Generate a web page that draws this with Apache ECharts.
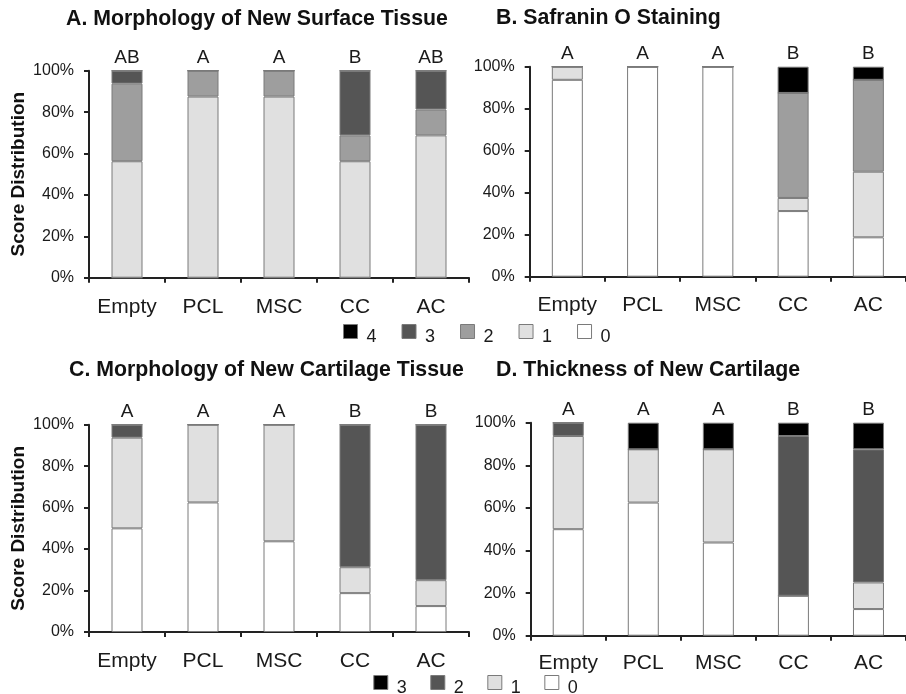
<!DOCTYPE html>
<html>
<head>
<meta charset="utf-8">
<script src="https://cdn.jsdelivr.net/npm/echarts@6/dist/echarts.min.js"></script>
<style>
html,body{margin:0;padding:0;background:#fff;}
#chart{width:906px;height:694px;}
</style>
</head>
<body>
<div id="chart"></div>
<script>
// ---- data ----
const categories = ['Empty', 'PCL', 'MSC', 'CC', 'AC'];
const yTicks = [0, 20, 40, 60, 80, 100];

// A. Morphology of New Surface Tissue (scores 0-4, % of samples)
const surfaceScore0 = [0, 0, 0, 0, 0];
const surfaceScore1 = [56.25, 87.5, 87.5, 56.25, 68.75];
const surfaceScore2 = [37.5, 12.5, 12.5, 12.5, 12.5];
const surfaceScore3 = [6.25, 0, 0, 31.25, 18.75];
const surfaceScore4 = [0, 0, 0, 0, 0];
const surfaceLetters = ['AB', 'A', 'A', 'B', 'AB'];

// B. Safranin O Staining (scores 0-4)
const safraninScore0 = [93.75, 100, 100, 31.25, 18.75];
const safraninScore1 = [6.25, 0, 0, 6.25, 31.25];
const safraninScore2 = [0, 0, 0, 50, 43.75];
const safraninScore3 = [0, 0, 0, 0, 0];
const safraninScore4 = [0, 0, 0, 12.5, 6.25];
const safraninLetters = ['A', 'A', 'A', 'B', 'B'];

// C. Morphology of New Cartilage Tissue (scores 0-3)
const cartilageScore0 = [50, 62.5, 43.75, 18.75, 12.5];
const cartilageScore1 = [43.75, 37.5, 56.25, 12.5, 12.5];
const cartilageScore2 = [6.25, 0, 0, 68.75, 75];
const cartilageScore3 = [0, 0, 0, 0, 0];
const cartilageLetters = ['A', 'A', 'A', 'B', 'B'];

// D. Thickness of New Cartilage (scores 0-3)
const thicknessScore0 = [50, 62.5, 43.75, 18.75, 12.5];
const thicknessScore1 = [43.75, 25, 43.75, 0, 12.5];
const thicknessScore2 = [6.25, 0, 0, 75, 62.5];
const thicknessScore3 = [0, 12.5, 12.5, 6.25, 12.5];
const thicknessLetters = ['A', 'A', 'A', 'B', 'B'];

const legendTopNames = ['4', '3', '2', '1', '0'];
const legendBottomNames = ['3', '2', '1', '0'];

// ---- styles ----
const FONT = '"Liberation Sans", Arial, Helvetica, sans-serif';
const TXT = '#1a1a1a';
const BORDER = '#7a7a7a';
const colors5 = { '0': '#ffffff', '1': '#e0e0e0', '2': '#9e9e9e', '3': '#555555', '4': '#000000' };
const colors4 = { '0': '#ffffff', '1': '#e0e0e0', '2': '#555555', '3': '#000000' };

const grids = [
  { left: 89, top: 70.7, width: 380, height: 207 },
  { left: 529.7, top: 66.7, width: 386.5, height: 210 },
  { left: 89, top: 424.7, width: 380, height: 207.3 },
  { left: 530.7, top: 422.7, width: 382, height: 213 }
];

const panels = [
  { title: 'A. Morphology of New Surface Tissue', tx: 66, ty: 9, ytitle: true, lm: 19,
    series: [surfaceScore0, surfaceScore1, surfaceScore2, surfaceScore3, surfaceScore4], colors: colors5, letters: surfaceLetters },
  { title: 'B. Safranin O Staining', tx: 496, ty: 8, ytitle: false, lm: 18,
    series: [safraninScore0, safraninScore1, safraninScore2, safraninScore3, safraninScore4], colors: colors5, letters: safraninLetters },
  { title: 'C. Morphology of New Cartilage Tissue', tx: 69, ty: 360, ytitle: true, lm: 19,
    series: [cartilageScore0, cartilageScore1, cartilageScore2, cartilageScore3], colors: colors4, letters: cartilageLetters },
  { title: 'D. Thickness of New Cartilage', tx: 496, ty: 360, ytitle: false, lm: 17,
    series: [thicknessScore0, thicknessScore1, thicknessScore2, thicknessScore3], colors: colors4, letters: thicknessLetters }
];

const axisLine = { show: true, lineStyle: { color: '#222', width: 2 } };
const axisTick = { show: true, length: 5, inside: false, lineStyle: { color: '#222', width: 2 } };

const legendText = {
  fontFamily: FONT, fontSize: 18, color: TXT,
  rich: { t: { fontFamily: FONT, fontSize: 18, color: TXT, padding: [12, 0, 0, 4] } }
};

const option = {
  backgroundColor: '#ffffff',
  animation: false,
  textStyle: { fontFamily: FONT },
  title: panels.map(p => ({
    text: p.title, left: p.tx, top: p.ty, padding: 0,
    textStyle: { fontFamily: FONT, fontWeight: 'bold', fontSize: 21.3, color: '#111' }
  })),
  grid: grids,
  xAxis: grids.map((g, i) => ({
    type: 'category', gridIndex: i, data: categories, boundaryGap: true,
    axisLine: axisLine,
    axisTick: Object.assign({ alignWithLabel: false, interval: 0 }, axisTick),
    axisLabel: { fontFamily: FONT, fontSize: 21, color: TXT, margin: panels[i].lm, interval: 0 },
    splitLine: { show: false }
  })),
  yAxis: grids.map((g, i) => ({
    type: 'value', gridIndex: i, min: yTicks[0], max: yTicks[yTicks.length - 1], interval: 20,
    axisLine: axisLine, axisTick: axisTick,
    axisLabel: { fontFamily: FONT, fontSize: 16, color: TXT, margin: 15, formatter: '{value}%' },
    splitLine: { show: false },
    name: panels[i].ytitle ? 'Score Distribution' : '',
    nameLocation: 'middle', nameGap: 61, nameRotate: 90,
    nameTextStyle: { fontFamily: FONT, fontWeight: 'bold', fontSize: 19, color: '#111' }
  })),
  legend: [
    {
      data: legendTopNames.map(n => ({ name: n, itemStyle: { color: colors5[n], borderColor: BORDER, borderWidth: 1 } })),
      left: 343, top: 324, padding: 0, itemWidth: 14, itemHeight: 14, itemGap: 25,
      icon: 'rect', selectedMode: false,
      formatter: name => '{t|' + name + '}',
      textStyle: legendText
    },
    {
      data: legendBottomNames.map(n => ({ name: n, itemStyle: { color: colors4[n], borderColor: BORDER, borderWidth: 1 } })),
      left: 373.3, top: 675, padding: 0, itemWidth: 14, itemHeight: 14, itemGap: 23.5,
      icon: 'rect', selectedMode: false,
      formatter: name => '{t|' + name + '}',
      textStyle: legendText
    }
  ],
  series: []
};

panels.forEach((p, i) => {
  p.series.forEach((vals, score) => {
    option.series.push({
      type: 'bar', name: String(score), xAxisIndex: i, yAxisIndex: i, stack: 'panel' + i,
      data: vals, barWidth: 31,
      itemStyle: { color: p.colors[String(score)], borderColor: BORDER, borderWidth: 1 },
      emphasis: { disabled: true }
    });
  });
  option.series.push({
    type: 'bar', name: 'letters' + i, xAxisIndex: i, yAxisIndex: i, stack: 'panel' + i,
    data: categories.map(() => 0), barWidth: 31,
    itemStyle: { color: 'rgba(0,0,0,0)', borderWidth: 0 },
    label: {
      show: true, position: 'top', distance: 3,
      fontFamily: FONT, fontSize: 19, color: TXT,
      formatter: params => p.letters[params.dataIndex]
    },
    emphasis: { disabled: true }
  });
});

const chart = echarts.init(document.getElementById('chart'), null, { renderer: 'canvas' });
chart.setOption(option);
</script>
</body>
</html>
